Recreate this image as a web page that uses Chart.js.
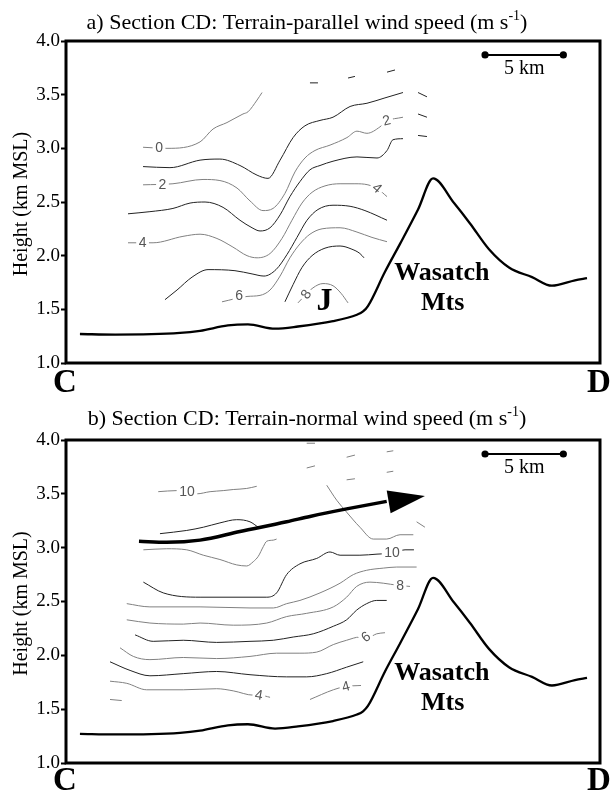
<!DOCTYPE html>
<html><head><meta charset="utf-8">
<script src="https://cdn.jsdelivr.net/npm/chart.js@4.4.0/dist/chart.umd.min.js"></script>
<style>
html,body{margin:0;padding:0;background:#fff;}
#wrap{position:relative;width:612px;height:790px;overflow:hidden;background:#fff;}
.pane{position:absolute;left:0;width:612px;height:395px;}
canvas{display:block;}
</style></head><body>
<div id="wrap">
<div class="pane" style="top:0"><canvas id="cA" width="612" height="395"></canvas></div>
<div class="pane" style="top:395px"><canvas id="cB" width="612" height="395"></canvas></div>
</div>
<script>
// ---------- axis ----------
const xRange = [0, 34.1];           // km along section C -> D
const yRange = [1.0, 4.0];          // km MSL
const yStep = 0.5;
const scaleBarKm = 5;
const scaleBarX0 = 26.76, scaleBarH = 3.87;

// ---------- terrain (shared) ----------
const terrainX = [0.89, 3.13, 7.28, 8.56, 10.34, 11.62, 13.35, 14.81, 17.05, 18.58, 18.97, 19.28, 20.37, 21.33, 22.48, 23.44, 24.78, 25.80, 27.01, 28.29, 29.76, 31.03, 32.50, 33.27];
const terrainH = [1.27, 1.265, 1.28, 1.30, 1.35, 1.36, 1.32, 1.34, 1.39, 1.45, 1.48, 1.53, 1.85, 2.11, 2.43, 2.72, 2.49, 2.30, 2.06, 1.89, 1.80, 1.72, 1.77, 1.79];

// ---------- panel a: terrain-parallel wind contours ----------
const a0X = [4.92, 6.45, 8.56, 9.39, 10.28, 11.30, 11.62, 12.20, 12.52];
const a0H = [3.01, 3.00, 3.06, 3.18, 3.24, 3.32, 3.34, 3.45, 3.52];
const a1X = [4.92, 6.64, 8.56, 9.83, 11.11, 12.20, 12.90, 13.67, 14.50, 15.26, 16.22, 17.05, 18.14, 19.22, 20.37, 21.52];
const a1H = [2.83, 2.82, 2.89, 2.90, 2.84, 2.75, 2.72, 2.89, 3.10, 3.21, 3.26, 3.29, 3.39, 3.42, 3.47, 3.52];
const a2X = [4.92, 6.83, 8.75, 9.83, 10.92, 11.75, 12.58, 13.22, 13.98, 14.62, 15.26, 15.90, 16.86, 17.94, 18.58, 19.22, 20.05, 20.43, 21.52];
const a2H = [2.66, 2.67, 2.71, 2.70, 2.63, 2.51, 2.42, 2.44, 2.58, 2.78, 2.91, 2.98, 3.03, 3.10, 3.16, 3.14, 3.20, 3.25, 3.29];
const a3X = [3.96, 5.36, 6.83, 7.92, 8.88, 10.03, 11.11, 11.88, 12.39, 13.03, 13.67, 14.30, 14.94, 15.58, 16.22, 17.05, 18.58, 19.86, 20.50, 20.88, 21.52];
const a3H = [2.39, 2.41, 2.44, 2.49, 2.50, 2.45, 2.33, 2.26, 2.23, 2.26, 2.38, 2.55, 2.69, 2.80, 2.84, 2.88, 2.92, 2.91, 2.98, 3.08, 3.09];
const a4X = [3.96, 5.56, 7.47, 8.56, 9.64, 10.66, 11.56, 12.20, 13.03, 13.79, 14.43, 15.07, 15.71, 16.54, 17.50, 18.45, 19.28, 19.92, 20.50];
const a4H = [2.12, 2.12, 2.18, 2.20, 2.16, 2.08, 2.00, 1.98, 2.02, 2.16, 2.33, 2.49, 2.59, 2.65, 2.67, 2.67, 2.66, 2.62, 2.55];
const a5X = [6.32, 7.09, 8.05, 9.07, 10.79, 11.88, 12.64, 13.41, 14.11, 14.75, 15.39, 16.09, 17.05, 18.14, 19.09, 20.50];
const a5H = [1.59, 1.68, 1.80, 1.87, 1.86, 1.83, 1.81, 1.87, 2.01, 2.17, 2.33, 2.43, 2.47, 2.46, 2.42, 2.33];
const a6X = [9.96, 11.56, 12.39, 13.03, 13.67, 14.30, 14.94, 15.58, 16.35, 17.50, 18.58, 19.54, 20.50];
const a6H = [1.57, 1.62, 1.63, 1.68, 1.81, 1.98, 2.11, 2.20, 2.25, 2.26, 2.22, 2.17, 2.13];
const a7X = [13.98, 14.50, 15.07, 15.71, 16.54, 17.50, 18.26, 18.77, 19.03];
const a7H = [1.57, 1.73, 1.89, 2.00, 2.07, 2.09, 2.06, 2.02, 1.98];
const a8X = [14.81, 15.20, 15.77, 16.41, 17.05, 17.56, 18.01];
const a8H = [1.56, 1.62, 1.70, 1.74, 1.72, 1.65, 1.56];
const aDashX = [[15.58, 16.09], [18.01, 18.45], [20.50, 21.01], [22.48, 23.05], [22.48, 23.05], [22.48, 23.05]];
const aDashH = [[3.61, 3.61], [3.655, 3.67], [3.71, 3.73], [3.52, 3.48], [3.32, 3.29], [3.12, 3.11]];
const aLabText = ['0', '2', '4', '6', '8', '2', '4'];
const aLabX = [5.94, 6.16, 4.89, 11.05, 15.33, 20.48, 19.86];
const aLabH = [3.01, 2.66, 2.12, 1.63, 1.64, 3.26, 2.63];
const aLabRot = [0, 0, 0, 0, -55, -15, 40];

// ---------- panel b: terrain-normal wind contours ----------
const b1X = [5.89, 7.07, 8.35, 9.20, 10.04, 10.68, 11.54, 12.18];
const b1H = [3.52, 3.53, 3.50, 3.52, 3.53, 3.54, 3.55, 3.57];
const b2X = [6.00, 7.71, 8.77, 9.83, 10.90, 11.75, 12.28];
const b2H = [3.13, 3.16, 3.19, 3.23, 3.26, 3.24, 3.19];
const b3X = [4.94, 6.43, 7.71, 8.77, 9.83, 10.90, 11.54, 11.96, 12.28, 12.60, 12.82, 13.24, 13.45];
const b3H = [2.98, 2.99, 2.98, 2.93, 2.89, 2.84, 2.83, 2.87, 2.92, 3.01, 3.06, 3.07, 3.08];
const b4X = [16.65, 17.29, 17.92, 18.77, 19.62, 20.48, 21.33, 22.18];
const b4H = [3.58, 3.44, 3.33, 3.19, 3.08, 3.08, 3.12, 3.12];
const b5X = [4.94, 6.21, 8.56, 12.82, 13.45, 14.09, 14.94, 16.01, 16.86, 17.50, 18.77, 19.86, 20.82, 21.65, 22.22];
const b5H = [2.68, 2.58, 2.54, 2.54, 2.58, 2.75, 2.85, 2.90, 2.96, 2.93, 2.93, 2.94, 2.95, 2.98, 2.98];
const b6X = [3.88, 5.36, 8.56, 11.75, 13.24, 14.09, 14.94, 16.22, 17.50, 18.35, 19.20, 20.26, 21.12, 22.39];
const b6H = [2.48, 2.45, 2.45, 2.44, 2.44, 2.48, 2.51, 2.58, 2.67, 2.75, 2.79, 2.81, 2.82, 2.82];
const b7X = [3.88, 5.36, 7.49, 8.56, 10.68, 12.82, 14.09, 15.37, 17.07, 17.92, 18.56, 19.41, 20.26, 21.20, 21.97];
const b7H = [2.33, 2.30, 2.29, 2.30, 2.28, 2.30, 2.36, 2.39, 2.45, 2.54, 2.64, 2.68, 2.67, 2.65, 2.64];
const b8X = [4.41, 5.57, 7.49, 9.62, 11.75, 13.24, 14.51, 15.79, 17.07, 17.92, 18.56, 19.20, 19.84, 20.48];
const b8H = [2.19, 2.13, 2.14, 2.12, 2.13, 2.14, 2.17, 2.20, 2.27, 2.33, 2.42, 2.48, 2.51, 2.51];
const b9X = [3.45, 4.30, 5.36, 7.49, 9.62, 11.75, 13.45, 14.94, 16.01, 17.07, 17.92, 18.77, 19.22, 19.84, 20.37];
const b9H = [2.07, 1.99, 1.96, 1.98, 1.97, 1.99, 2.02, 2.02, 2.03, 2.10, 2.14, 2.17, 2.16, 2.20, 2.21];
const b10X = [2.81, 4.09, 5.36, 7.49, 9.62, 11.75, 14.09, 15.37, 16.65, 17.92, 18.98];
const b10H = [1.94, 1.86, 1.81, 1.83, 1.85, 1.82, 1.80, 1.80, 1.83, 1.89, 1.94];
const b11X = [2.81, 3.88, 5.15, 7.49, 9.62, 10.68, 11.96, 12.39, 13.03];
const b11H = [1.76, 1.74, 1.68, 1.68, 1.69, 1.67, 1.63, 1.63, 1.61];
const b12X = [15.58, 17.07, 17.82, 18.84];
const b12H = [1.59, 1.68, 1.71, 1.72];
const bDashX = [[2.81, 3.56], [15.37, 15.90], [17.92, 18.45], [20.48, 20.90], [15.37, 15.90], [17.92, 18.45], [20.48, 20.90], [22.39, 22.92]];
const bDashH = [[1.59, 1.58], [3.97, 3.97], [3.84, 3.86], [3.89, 3.90], [3.74, 3.76], [3.63, 3.64], [3.70, 3.71], [3.24, 3.19]];
const bLabText = ['10', '10', '8', '6', '4', '4'];
const bLabX = [7.73, 20.82, 21.33, 19.16, 12.32, 17.88];
const bLabH = [3.52, 2.95, 2.65, 2.17, 1.63, 1.71];
const bLabRot = [0, 0, 0, -35, 10, -15];
const arrowX = [4.66, 6.43, 8.56, 11.11, 14.09, 15.58, 17.92, 20.48];
const arrowH = [3.06, 3.05, 3.07, 3.15, 3.24, 3.29, 3.36, 3.43];
const arrowHeadX = [22.92, 20.48, 20.73];
const arrowHeadH = [3.48, 3.53, 3.32];

// ---------- styles ----------
const GRAY = '#808080', DARK = '#222222';
const SERIF = '"Liberation Serif", "Times New Roman", serif';

function line(xs, hs, color, width, extra) {
  return Object.assign({
    data: xs.map((v, i) => ({x: v, y: hs[i]})),
    showLine: true, borderColor: color, borderWidth: width,
    pointRadius: 0, pointHoverRadius: 0, fill: false,
    cubicInterpolationMode: 'monotone'
  }, extra || {});
}
function dashSets(xs, hs, color) {
  return xs.map((xx, i) => line(xx, hs[i], color, 1, {cubicInterpolationMode: 'default', tension: 0}));
}
function scaleBar() {
  return line([scaleBarX0, scaleBarX0 + scaleBarKm], [scaleBarH, scaleBarH], '#000', 2,
    {pointRadius: 2.6, pointBackgroundColor: '#000', pointBorderColor: '#000', cubicInterpolationMode: 'default', tension: 0, clip: false});
}

const setsA = [
  line(terrainX, terrainH, '#000', 2.3),
  line(a0X, a0H, GRAY, 1), line(a1X, a1H, DARK, 1), line(a2X, a2H, GRAY, 1),
  line(a3X, a3H, DARK, 1), line(a4X, a4H, GRAY, 1), line(a5X, a5H, DARK, 1),
  line(a6X, a6H, GRAY, 1), line(a7X, a7H, DARK, 1), line(a8X, a8H, GRAY, 1),
  ...dashSets(aDashX, aDashH, DARK),
  scaleBar()
];
const setsB = [
  line(arrowX, arrowH, '#000', 3.5),
  line(terrainX, terrainH, '#000', 2.3),
  line(b1X, b1H, GRAY, 1), line(b2X, b2H, DARK, 1), line(b3X, b3H, GRAY, 1),
  line(b4X, b4H, GRAY, 1), line(b5X, b5H, DARK, 1), line(b6X, b6H, GRAY, 1),
  line(b7X, b7H, GRAY, 1), line(b8X, b8H, DARK, 1), line(b9X, b9H, GRAY, 1),
  line(b10X, b10H, DARK, 1), line(b11X, b11H, GRAY, 1), line(b12X, b12H, GRAY, 1),
  ...dashSets(bDashX, bDashH, GRAY),
  scaleBar()
];

function panelPlugin(cfg) {
  return {
    id: 'panel' + cfg.key,
    afterDatasetsDraw(chart) {
      const ctx = chart.ctx, X = chart.scales.x, Y = chart.scales.y;
      ctx.save();
      if (cfg.head) {
        ctx.beginPath();
        cfg.head[0].forEach((v, i) => {
          const px = X.getPixelForValue(v), py = Y.getPixelForValue(cfg.head[1][i]);
          if (i === 0) ctx.moveTo(px, py); else ctx.lineTo(px, py);
        });
        ctx.closePath(); ctx.fillStyle = '#000'; ctx.fill();
      }
      ctx.font = '14px "Liberation Sans", Arial, sans-serif';
      ctx.textAlign = 'center'; ctx.textBaseline = 'middle';
      cfg.labText.forEach((t, i) => {
        const px = X.getPixelForValue(cfg.labX[i]), py = Y.getPixelForValue(cfg.labH[i]);
        ctx.save(); ctx.translate(px, py); ctx.rotate(cfg.labRot[i] * Math.PI / 180);
        const w = ctx.measureText(t).width;
        ctx.fillStyle = '#fff'; ctx.fillRect(-w / 2 - 2.5, -6, w + 5, 12);
        ctx.fillStyle = '#555'; ctx.fillText(t, 0, 0.5);
        ctx.restore();
      });
      ctx.restore();
    },
    afterDraw(chart) {
      const ctx = chart.ctx, a = chart.chartArea, X = chart.scales.x, Y = chart.scales.y;
      ctx.save();
      ctx.strokeStyle = '#000'; ctx.lineWidth = 3;
      ctx.strokeRect(a.left, a.top, a.right - a.left, a.bottom - a.top);
      ctx.fillStyle = '#000';
      // title with superscript
      const pre = cfg.title, sup = '-1', post = ')';
      ctx.font = '22px ' + SERIF; const w1 = ctx.measureText(pre).width, w3 = ctx.measureText(post).width;
      ctx.font = '14px ' + SERIF; const w2 = ctx.measureText(sup).width;
      const x0 = 307 - (w1 + w2 + w3) / 2;
      ctx.textAlign = 'left'; ctx.textBaseline = 'alphabetic';
      ctx.font = '22px ' + SERIF; ctx.fillText(pre, x0, cfg.titleBase);
      ctx.font = '14px ' + SERIF; ctx.fillText(sup, x0 + w1, cfg.titleBase - 9);
      ctx.font = '22px ' + SERIF; ctx.fillText(post, x0 + w1 + w2, cfg.titleBase);
      // y title
      ctx.save();
      ctx.translate(27, (a.top + a.bottom) / 2 + 2); ctx.rotate(-Math.PI / 2);
      ctx.textAlign = 'center'; ctx.font = '20px ' + SERIF;
      ctx.fillText('Height (km MSL)', 0, 0);
      ctx.restore();
      // C / D
      ctx.textAlign = 'center'; ctx.font = 'bold 33px ' + SERIF;
      ctx.fillText('C', a.left - 1, a.bottom + cfg.cdOff);
      ctx.fillText('D', a.right - 1, a.bottom + cfg.cdOff);
      // mountain labels
      ctx.font = 'bold 26px ' + SERIF;
      ctx.fillText('Wasatch', X.getPixelForValue(24.0), Y.getPixelForValue(1.77));
      ctx.fillText('Mts', X.getPixelForValue(24.05), Y.getPixelForValue(1.49));
      if (cfg.jet) {
        ctx.font = 'bold 32px ' + SERIF;
        ctx.fillText('J', X.getPixelForValue(16.51), Y.getPixelForValue(1.49));
      }
      ctx.font = '20px ' + SERIF;
      ctx.fillText(scaleBarKm + ' km', X.getPixelForValue(scaleBarX0 + scaleBarKm / 2), Y.getPixelForValue(scaleBarH) + 19);
      ctx.restore();
    }
  };
}

function makeChart(id, datasets, cfg) {
  return new Chart(document.getElementById(id), {
    type: 'scatter',
    data: {datasets},
    options: {
      responsive: false, animation: false, devicePixelRatio: 1,
      layout: {padding: {left: 0, right: 12, top: cfg.top, bottom: cfg.bottom}},
      plugins: {legend: {display: false}, tooltip: {enabled: false}, title: {display: false}},
      events: [],
      scales: {
        x: {type: 'linear', min: xRange[0], max: xRange[1], display: false},
        y: {
          type: 'linear', min: yRange[0], max: yRange[1],
          afterFit: s => { s.width = 66; },
          ticks: {stepSize: yStep, callback: v => Number(v).toFixed(1),
                  font: {family: SERIF, size: 19}, color: '#000', padding: 1},
          grid: {drawOnChartArea: false, drawTicks: true, tickLength: 5, tickWidth: 2, tickColor: '#000'},
          border: {display: false}
        }
      }
    },
    plugins: [panelPlugin(cfg)]
  });
}

makeChart('cA', setsA, {key: 'A', top: 41, bottom: 32, titleBase: 29, cdOff: 29, jet: true,
  title: 'a) Section CD: Terrain-parallel wind speed (m s',
  labText: aLabText, labX: aLabX, labH: aLabH, labRot: aLabRot});
makeChart('cB', setsB, {key: 'B', top: 45, bottom: 27, titleBase: 30, cdOff: 27, jet: false,
  title: 'b) Section CD: Terrain-normal wind speed (m s',
  head: [arrowHeadX, arrowHeadH],
  labText: bLabText, labX: bLabX, labH: bLabH, labRot: bLabRot});
</script>
</body></html>
